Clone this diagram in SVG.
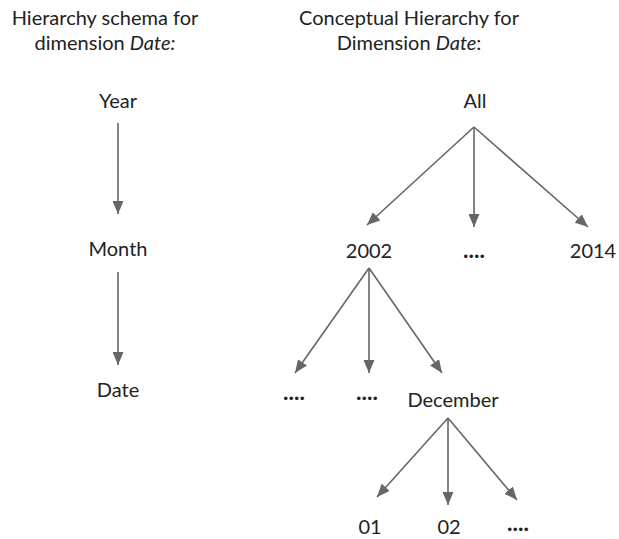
<svg xmlns="http://www.w3.org/2000/svg" width="619" height="539" viewBox="0 0 619 539">
<defs>
<marker id="ah" markerUnits="userSpaceOnUse" markerWidth="13" markerHeight="11" refX="13" refY="5.5" orient="auto">
<path d="M0,0 L13,5.5 L0,11 z" fill="#666"/>
</marker>
<style>
text{font-family:Lato,"Open Sans","Liberation Sans",sans-serif;font-size:20px;fill:#222;text-anchor:middle}
.dots{font-weight:bold;font-size:23px}
.c line{stroke:#666;stroke-width:1.6;marker-end:url(#ah)}
</style>
</defs>
<rect width="619" height="539" fill="#fff"/>
<g id="title-left">
<text x="105" y="25">Hierarchy schema for</text>
<text x="105" y="50">dimension <tspan font-style="italic">Date:</tspan></text>
</g>
<g id="title-right">
<text x="409" y="25">Conceptual Hierarchy for</text>
<text x="409" y="50">Dimension <tspan font-style="italic">Date</tspan>:</text>
</g>
<g id="year"><text x="118" y="108">Year</text></g>
<g id="month"><text x="118" y="256">Month</text></g>
<g id="date"><text x="118" y="397">Date</text></g>
<g id="all"><text x="475" y="108">All</text></g>
<g id="y2002"><text x="369" y="258">2002</text></g>
<g id="ydots"><text class="dots" x="474" y="258">....</text></g>
<g id="y2014"><text x="593" y="258">2014</text></g>
<g id="mdots1"><text class="dots" x="294" y="400">....</text></g>
<g id="mdots2"><text class="dots" x="367" y="400">....</text></g>
<g id="december"><text x="453" y="407">December</text></g>
<g id="d01"><text x="370" y="534">01</text></g>
<g id="d02"><text x="449" y="534">02</text></g>
<g id="ddots"><text class="dots" x="518" y="531">....</text></g>
<g id="connectors" class="c">
<line x1="118" y1="123" x2="118" y2="214"/>
<line x1="118" y1="272" x2="118" y2="365"/>
<line x1="474" y1="127" x2="367" y2="225"/>
<line x1="474" y1="127" x2="474" y2="227"/>
<line x1="474" y1="127" x2="588" y2="227"/>
<line x1="369" y1="268" x2="295" y2="373"/>
<line x1="369" y1="268" x2="369" y2="373"/>
<line x1="369" y1="268" x2="442" y2="373"/>
<line x1="448" y1="418" x2="377" y2="497"/>
<line x1="448" y1="418" x2="448" y2="505"/>
<line x1="448" y1="418" x2="517" y2="500"/>
</g>
</svg>
